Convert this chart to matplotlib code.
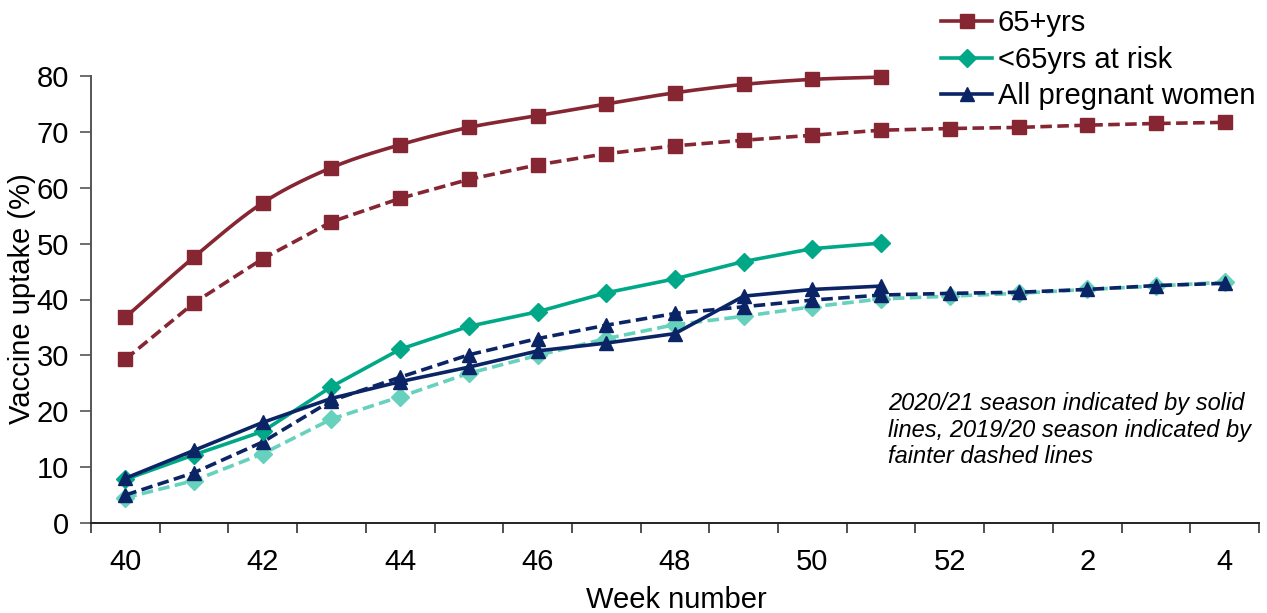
import numpy as np
import matplotlib
matplotlib.use("Agg")
import matplotlib.pyplot as plt
from matplotlib.ticker import FixedLocator
from matplotlib.lines import Line2D

plt.rcParams["font.family"] = ["Liberation Sans", "DejaVu Sans"]

weeks = [40, 41, 42, 43, 44, 45, 46, 47, 48, 49, 50, 51, 52, 1, 2, 3, 4]

# 2020/21 season (solid), weeks 40-51
over65_2021 = [36.8, 47.6, 57.3, 63.6, 67.7, 70.8, 72.9, 75.0, 77.0, 78.5, 79.4, 79.8]
risk_2021 = [7.8, 12.2, 16.4, 24.4, 31.1, 35.2, 37.8, 41.2, 43.7, 46.8, 49.1, 50.1]
preg_2021 = [8.0, 13.0, 18.0, 22.3, 25.3, 27.9, 30.8, 32.2, 33.9, 40.6, 41.8, 42.4]

# 2019/20 season (dashed), weeks 40-4
over65_1920 = [29.3, 39.4, 47.3, 53.9, 58.1, 61.5, 64.1, 66.1, 67.5, 68.5, 69.4,
               70.3, 70.6, 70.8, 71.2, 71.5, 71.7]
risk_1920 = [4.5, 7.6, 12.4, 18.6, 22.6, 26.8, 30.0, 33.0, 35.5, 37.0, 38.7,
             40.1, 40.6, 41.1, 41.8, 42.4, 43.1]
preg_1920 = [5.0, 9.0, 14.5, 21.9, 26.1, 30.1, 33.0, 35.4, 37.5, 38.7, 39.9,
             40.8, 41.1, 41.3, 41.8, 42.5, 42.9]

labels = ["65+yrs", "<65yrs at risk", "All pregnant women"]
note = ("2020/21 season indicated by solid\n"
        "lines, 2019/20 season indicated by\n"
        "fainter dashed lines")

MAROON = "#862633"
TEAL = "#00A887"
LTEAL = "#66D1BC"
NAVY = "#0B2466"


def smooth(x, y, n=20):
    # catmull-rom through the points, like excel's smoothed line
    x = np.asarray(x, float); y = np.asarray(y, float)
    px = np.r_[2 * x[0] - x[1], x, 2 * x[-1] - x[-2]]
    py = np.r_[2 * y[0] - y[1], y, 2 * y[-1] - y[-2]]
    ox, oy = [], []
    t = np.linspace(0, 1, n, endpoint=False)
    for i in range(1, len(px) - 2):
        for p, o in ((px, ox), (py, oy)):
            p0, p1, p2, p3 = p[i - 1], p[i], p[i + 1], p[i + 2]
            o.extend(0.5 * (2 * p1 + (-p0 + p2) * t + (2 * p0 - 5 * p1 + 4 * p2 - p3) * t ** 2
                            + (-p0 + 3 * p1 - 3 * p2 + p3) * t ** 3))
    ox.append(x[-1]); oy.append(y[-1])
    return ox, oy


fig = plt.figure(figsize=(12.67, 6.13), dpi=100)
ax = fig.add_axes([91 / 1267, 1 - 523 / 613, (1259 - 91) / 1267, (523 - 76) / 613])

xa = np.arange(len(weeks))
xs = xa[:len(over65_2021)]
lw = 2.6
dash = (3.2, 1.5)
FS = 21

# dashed (previous season) first
ax.plot(xa, risk_1920, color=LTEAL, lw=lw, dashes=dash, marker="D", ms=9, clip_on=False, zorder=2)
ax.plot(xa, preg_1920, color=NAVY, lw=lw, dashes=dash, marker="^", ms=10.5, clip_on=False, zorder=3)
ax.plot(xa, over65_1920, color=MAROON, lw=lw, dashes=dash, marker="s", ms=10, clip_on=False, zorder=3)

sx, sy = smooth(xs, over65_2021)
ax.plot(sx, sy, color=MAROON, lw=lw, zorder=4, clip_on=False)
ax.plot(xs, over65_2021, color=MAROON, lw=0, marker="s", ms=10, clip_on=False, zorder=4)
ax.plot(xs, risk_2021, color=TEAL, lw=lw, marker="D", ms=9, clip_on=False, zorder=4)
ax.plot(xs, preg_2021, color=NAVY, lw=lw, marker="^", ms=10.5, clip_on=False, zorder=5)

ax.set_xlim(-0.5, len(weeks) - 0.5)
ax.set_ylim(0, 80)
ax.set_yticks(range(0, 81, 10))
ax.xaxis.set_major_locator(FixedLocator(xa[::2]))
ax.set_xticklabels([str(w) for w in weeks[::2]])
ax.xaxis.set_minor_locator(FixedLocator(np.arange(-0.5, len(weeks), 1.0)))
ax.tick_params(axis="x", which="major", length=0, pad=18, labelsize=FS)
ax.tick_params(axis="x", which="minor", length=7, width=1.2, direction="out", color="#333333")
ax.tick_params(axis="y", length=8, width=1.2, direction="out", pad=8, labelsize=FS, color="#555555")

for s in ("top", "right"):
    ax.spines[s].set_visible(False)
ax.spines["left"].set_color("#555555")
ax.spines["left"].set_linewidth(1.4)
ax.spines["bottom"].set_color("#222222")
ax.spines["bottom"].set_linewidth(1.4)

fig.text(22 / 1267, 1 - 299 / 613, "Vaccine uptake (%)", fontsize=FS, rotation=90,
         ha="center", va="center")
fig.text(676 / 1267, 1 - 600 / 613, "Week number", fontsize=FS, ha="center", va="center")

hl = [Line2D([], [], color=MAROON, lw=lw, marker="s", ms=10),
      Line2D([], [], color=TEAL, lw=lw, marker="D", ms=9),
      Line2D([], [], color=NAVY, lw=lw, marker="^", ms=10.5)]
fig.legend(hl, labels, loc="upper left", bbox_to_anchor=(941 / 1267, 1 - 9 / 613),
           frameon=False, fontsize=FS, handlelength=1.75, handletextpad=0.2,
           labelspacing=0.3, borderpad=0, borderaxespad=0)

fig.text(888 / 1267, 1 - 392 / 613, note, fontsize=17, style="italic",
         ha="left", va="top", linespacing=1.2)

fig.savefig("out.png", dpi=100)
